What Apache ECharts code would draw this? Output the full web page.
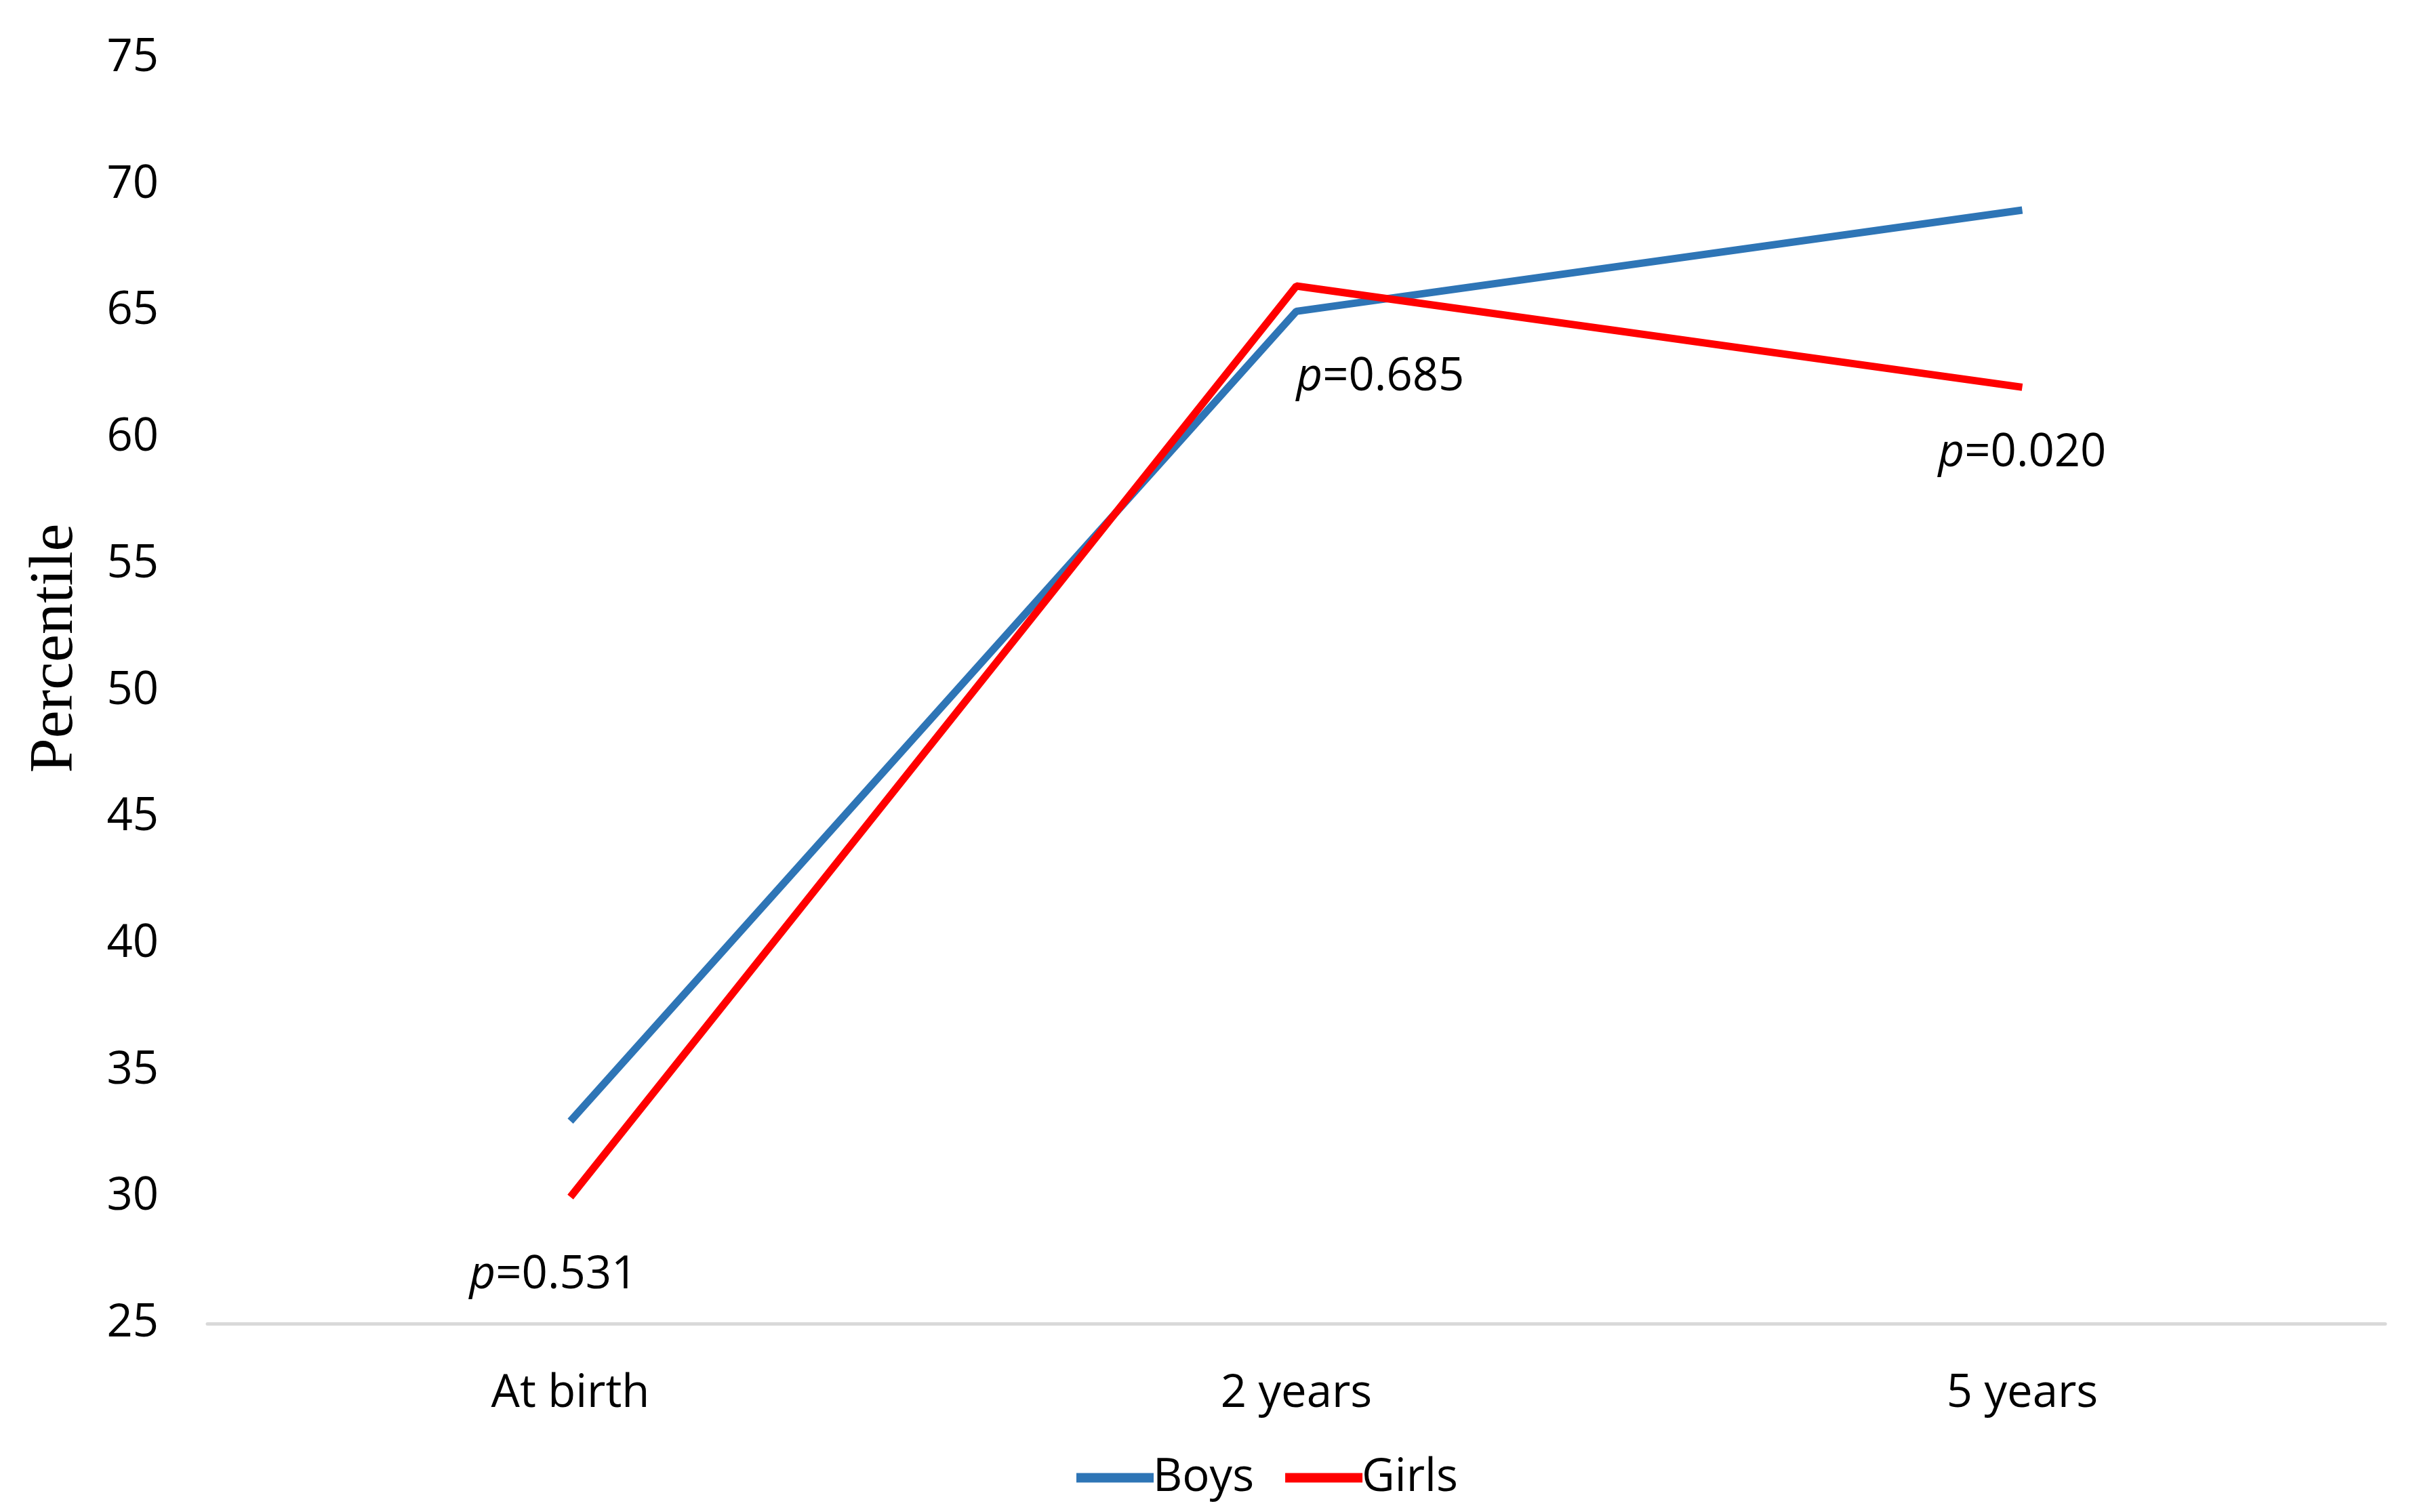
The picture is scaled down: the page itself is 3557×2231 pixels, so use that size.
<!DOCTYPE html>
<html>
<head>
<meta charset="utf-8">
<script src="https://cdn.jsdelivr.net/npm/echarts@6/dist/echarts.min.js"></script>
<style>
html,body{margin:0;padding:0;background:#fff;}
#chart{width:3557px;height:2231px;}
</style>
</head>
<body>
<div id="chart"></div>
<script>
const categories = ['At birth', '2 years', '5 years'];
const boys = [33, 65, 69];
const girls = [30, 66, 62];
const pValues = ['0.531', '0.685', '0.020'];
const pLabelY = [26.9, 62.4, 59.4];
const pAlign = ['center', 'left', 'center'];

const FONT = '"Open Sans", "Liberation Sans", sans-serif';
const chart = echarts.init(document.getElementById('chart'));

const pData = pValues.map((v, i) => ({
  value: [i, pLabelY[i]],
  label: { align: pAlign[i], offset: i === 0 ? [-25, 0] : [0, 0] }
}));

chart.setOption({
  animation: false,
  backgroundColor: '#ffffff',
  grid: { left: 306, right: 38, top: 86, bottom: 278, containLabel: false },
  legend: {
    data: ['Boys', 'Girls'],
    left: 1583,
    top: 2142,
    itemWidth: 114,
    itemHeight: 14,
    itemGap: 46,
    icon: 'rect',
    textStyle: { fontFamily: FONT, fontSize: 67, color: '#000', padding: [0, 0, 0, -6] }
  },
  xAxis: {
    type: 'category',
    data: categories,
    boundaryGap: true,
    axisLine: { show: true, lineStyle: { color: '#D9D9D9', width: 5 } },
    axisTick: { show: false },
    axisLabel: { fontFamily: FONT, fontSize: 67, color: '#000', margin: 70 },
    splitLine: { show: false }
  },
  yAxis: {
    type: 'value',
    min: 25,
    max: 75,
    interval: 5,
    name: 'Percentile',
    nameLocation: 'middle',
    nameGap: 178,
    nameRotate: 90,
    nameTextStyle: { fontFamily: '"Liberation Serif", "DejaVu Serif", serif', fontSize: 92, color: '#000', padding: [0, 0, 0, 126] },
    axisLine: { show: false },
    axisTick: { show: false },
    splitLine: { show: false },
    axisLabel: { fontFamily: FONT, fontSize: 67, color: '#000', margin: 72 }
  },
  series: [
    {
      name: 'Boys',
      type: 'line',
      data: boys,
      symbol: 'none',
      color: '#2E75B6',
      lineStyle: { color: '#2E75B6', width: 11 },
      z: 2
    },
    {
      name: 'Girls',
      type: 'line',
      data: girls,
      symbol: 'none',
      color: '#FF0000',
      lineStyle: { color: '#FF0000', width: 11 },
      z: 3
    },
    {
      name: 'pvalues',
      type: 'scatter',
      data: pData,
      symbolSize: 0,
      silent: true,
      itemStyle: { opacity: 1 },
      label: {
        show: true,
        position: 'inside',
        verticalAlign: 'middle',
        color: '#000',
        formatter: (p) => '{i|p}{n|=' + pValues[p.dataIndex] + '}',
        rich: {
          i: { fontFamily: FONT, fontSize: 67, fontStyle: 'italic', color: '#000' },
          n: { fontFamily: FONT, fontSize: 67, color: '#000' }
        }
      },
      z: 5
    }
  ]
});
</script>
</body>
</html>
